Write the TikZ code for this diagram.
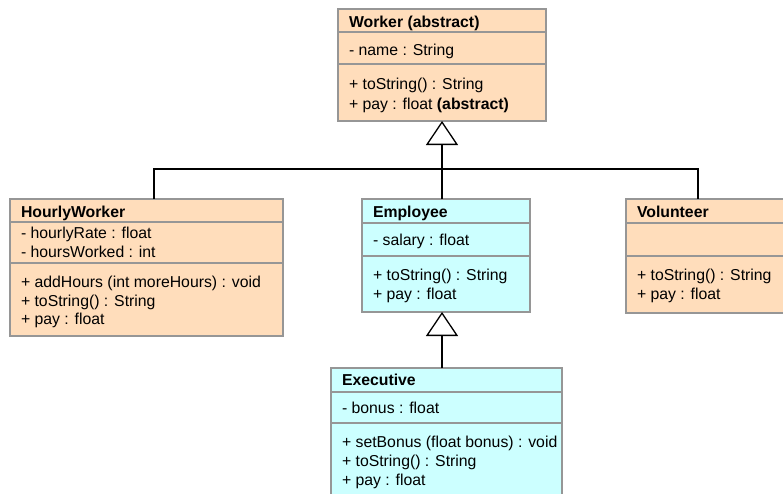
\documentclass[tikz,border=0pt]{standalone}
\usepackage{fontspec}
\setmainfont{Liberation Sans}
\usetikzlibrary{arrows.meta,calc}
\definecolor{peachfill}{RGB}{255,221,187}
\definecolor{cyanfill}{RGB}{204,255,255}
\definecolor{boxline}{RGB}{150,150,150}
\tikzset{
  classbox/.style={draw=boxline, line width=1.2pt, anchor=north west, inner sep=0pt, outer sep=0pt},
  peachbox/.style={classbox, fill=peachfill},
  cyanbox/.style={classbox, fill=cyanfill},
  sepline/.style={draw=boxline, line width=1.2pt},
  member/.style={anchor=base west, inner sep=0pt, outer sep=0pt, font=\fontsize{15.8}{18}\selectfont},
  classname/.style={member, font=\fontsize{15.8}{18}\selectfont\bfseries},
  link/.style={draw=black, line width=1.3pt},
  inherit/.style={link, -{Triangle[open, width=32pt, length=24pt, fill=white]}}
}
\begin{document}
\begin{tikzpicture}[x=1pt, y=-1pt]
\clip (0,0) rectangle (783,493);
\fill[white] (0,0) rectangle (783,493);

% class boxes
\node[peachbox, minimum width=208pt, minimum height=112pt] (worker) at (338,9) {};
\node[peachbox, minimum width=273pt, minimum height=137pt] (hourly) at (10,199) {};
\node[cyanbox,  minimum width=168pt, minimum height=113pt] (employee) at (362,199) {};
\node[peachbox, minimum width=170pt, minimum height=114pt] (volunteer) at (626,199) {};
\node[cyanbox,  minimum width=231pt, minimum height=140pt] (executive) at (331,368) {};

% compartment separators
\draw[sepline] ($(worker.north west)+(0,23)$) -- ($(worker.north east)+(0,23)$);
\draw[sepline] ($(worker.north west)+(0,55)$) -- ($(worker.north east)+(0,55)$);
\draw[sepline] ($(hourly.north west)+(0,23)$) -- ($(hourly.north east)+(0,23)$);
\draw[sepline] ($(hourly.north west)+(0,64)$) -- ($(hourly.north east)+(0,64)$);
\draw[sepline] ($(employee.north west)+(0,24)$) -- ($(employee.north east)+(0,24)$);
\draw[sepline] ($(employee.north west)+(0,57)$) -- ($(employee.north east)+(0,57)$);
\draw[sepline] ($(volunteer.north west)+(0,24)$) -- ($(volunteer.north east)+(0,24)$);
\draw[sepline] ($(volunteer.north west)+(0,57)$) -- ($(volunteer.north east)+(0,57)$);
\draw[sepline] ($(executive.north west)+(0,24)$) -- ($(executive.north east)+(0,24)$);
\draw[sepline] ($(executive.north west)+(0,55)$) -- ($(executive.north east)+(0,55)$);

% Worker
\node[classname] (worker-name) at (349,27) {Worker (abstract)};
\node[member] (worker-a1) at (349,55) {- name : String};
\node[member] (worker-m1) at (349,89) {+ toString() : String};
\node[member] (worker-m2) at (349,109) {+ pay : float \textbf{(abstract)}};

% HourlyWorker
\node[classname] (hourly-name) at (21,217) {HourlyWorker};
\node[member] (hourly-a1) at (21,238) {- hourlyRate : float};
\node[member] (hourly-a2) at (21,257) {- hoursWorked : int};
\node[member] (hourly-m1) at (21,287) {+ addHours (int moreHours) : void};
\node[member] (hourly-m2) at (21,306) {+ toString() : String};
\node[member] (hourly-m3) at (21,324) {+ pay : float};

% Employee
\node[classname] (employee-name) at (373,217) {Employee};
\node[member] (employee-a1) at (373,245) {- salary : float};
\node[member] (employee-m1) at (373,280) {+ toString() : String};
\node[member] (employee-m2) at (373,299) {+ pay : float};

% Volunteer
\node[classname] (volunteer-name) at (637,217) {Volunteer};
\node[member] (volunteer-m1) at (637,280) {+ toString() : String};
\node[member] (volunteer-m2) at (637,299) {+ pay : float};

% Executive
\node[classname] (executive-name) at (342,385) {Executive};
\node[member] (executive-a1) at (342,413) {- bonus : float};
\node[member] (executive-m1) at (342,447) {+ setBonus (float bonus) : void};
\node[member] (executive-m2) at (342,466) {+ toString() : String};
\node[member] (executive-m3) at (342,485) {+ pay : float};

% generalisation tree under Worker
\coordinate (joint) at (442,169);
\coordinate (hourly-in) at ($(hourly.north west)+(144,0)$);
\coordinate (volunteer-in) at ($(volunteer.north west)+(72,0)$);
\draw[link] (hourly-in) |- (joint) -| (volunteer-in);
\draw[inherit] (employee.north -| worker.south) -- (worker.south);

% Executive extends Employee
\draw[inherit] (executive.north -| worker.south) -- (employee.south -| worker.south);
\end{tikzpicture}
\end{document}
